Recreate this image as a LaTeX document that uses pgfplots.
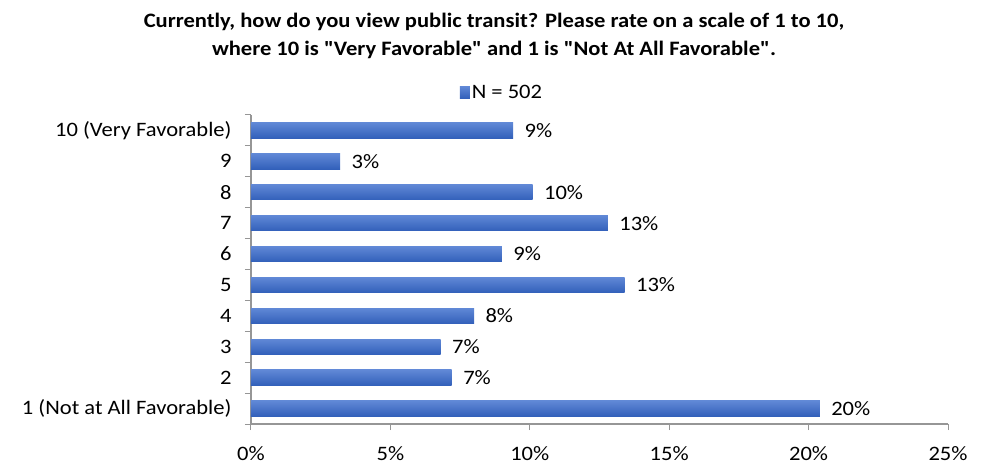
\documentclass[border=0pt]{standalone}
\usepackage{pgfplots}
\pgfplotsset{compat=1.18}
\usepackage{fontspec}
\setmainfont{Carlito}[Ligatures=TeXOff, FakeStretch=1.1]
\definecolor{barblue}{RGB}{68,114,196}
\definecolor{bartop}{RGB}{96,136,214}
\definecolor{barbot}{RGB}{50,96,186}
\definecolor{axgray}{RGB}{150,150,150}
\newcommand{\lblfont}{\fontsize{20.5bp}{24bp}\selectfont}
\pgfplotsset{
  onebar/.style={xbar, bar width=0.5, draw=none, top color=bartop, bottom color=barbot,
    nodes near coords, point meta=explicit symbolic,
    nodes near coords style={font=\lblfont, anchor=west, xshift=8bp}},
}
\begin{document}
\begin{tikzpicture}
\begin{axis}[
  scale only axis, width=697bp, height=309bp,
  xmin=0, xmax=25, ymin=0.5, ymax=10.5,
  axis x line*=bottom, axis y line*=left,
  axis line style={axgray, line width=1.2bp},
  xtick={0,5,...,25},
  xticklabel={\pgfmathprintnumber{\tick}\%},
  /pgf/number format/assume math mode=true,
  ytick={1,...,10},
  yticklabels={1 (Not at All Favorable),2,3,4,5,6,7,8,9,10 (Very Favorable)},
  minor ytick={0.5,1.5,...,10.5},
  tick align=outside,
  major tick length=6bp, minor tick length=6bp,
  x tick style={axgray, line width=1bp},
  major y tick style={draw=none},
  minor y tick style={axgray, line width=1bp},
  tick label style={font=\lblfont},
  y tick label style={xshift=-10bp},
  x tick label style={yshift=-13bp},
  legend style={at={(0.36,1)}, anchor=south, yshift=11bp, draw=none, font=\lblfont},
]
\coordinate (bl) at (rel axis cs:0,0);
\addplot[onebar, legend image code/.code={\fill[barblue] (0bp,-6bp) rectangle (10bp,6bp);}]
  coordinates {(20.4,1) [20\%]};
\addlegendentry{N = 502}
\addplot[onebar, forget plot] coordinates {(7.2,2)  [7\%]};
\addplot[onebar, forget plot] coordinates {(6.8,3)  [7\%]};
\addplot[onebar, forget plot] coordinates {(8.0,4)  [8\%]};
\addplot[onebar, forget plot] coordinates {(13.4,5) [13\%]};
\addplot[onebar, forget plot] coordinates {(9.0,6)  [9\%]};
\addplot[onebar, forget plot] coordinates {(12.8,7) [13\%]};
\addplot[onebar, forget plot] coordinates {(10.1,8) [10\%]};
\addplot[onebar, forget plot] coordinates {(3.2,9)  [3\%]};
\addplot[onebar, forget plot] coordinates {(9.4,10) [9\%]};
\end{axis}
\path (bl) ++(-251bp,-40bp) rectangle ++(982bp,464bp);
\node[font=\bfseries\fontsize{20.5bp}{28bp}\selectfont, align=center] at ([shift={(243bp,388bp)}]bl)
  {Currently, how do you view public transit? Please rate on a scale of 1 to 10,\\
   where 10 is "Very Favorable" and 1 is "Not At All Favorable".};
\end{tikzpicture}
\end{document}
